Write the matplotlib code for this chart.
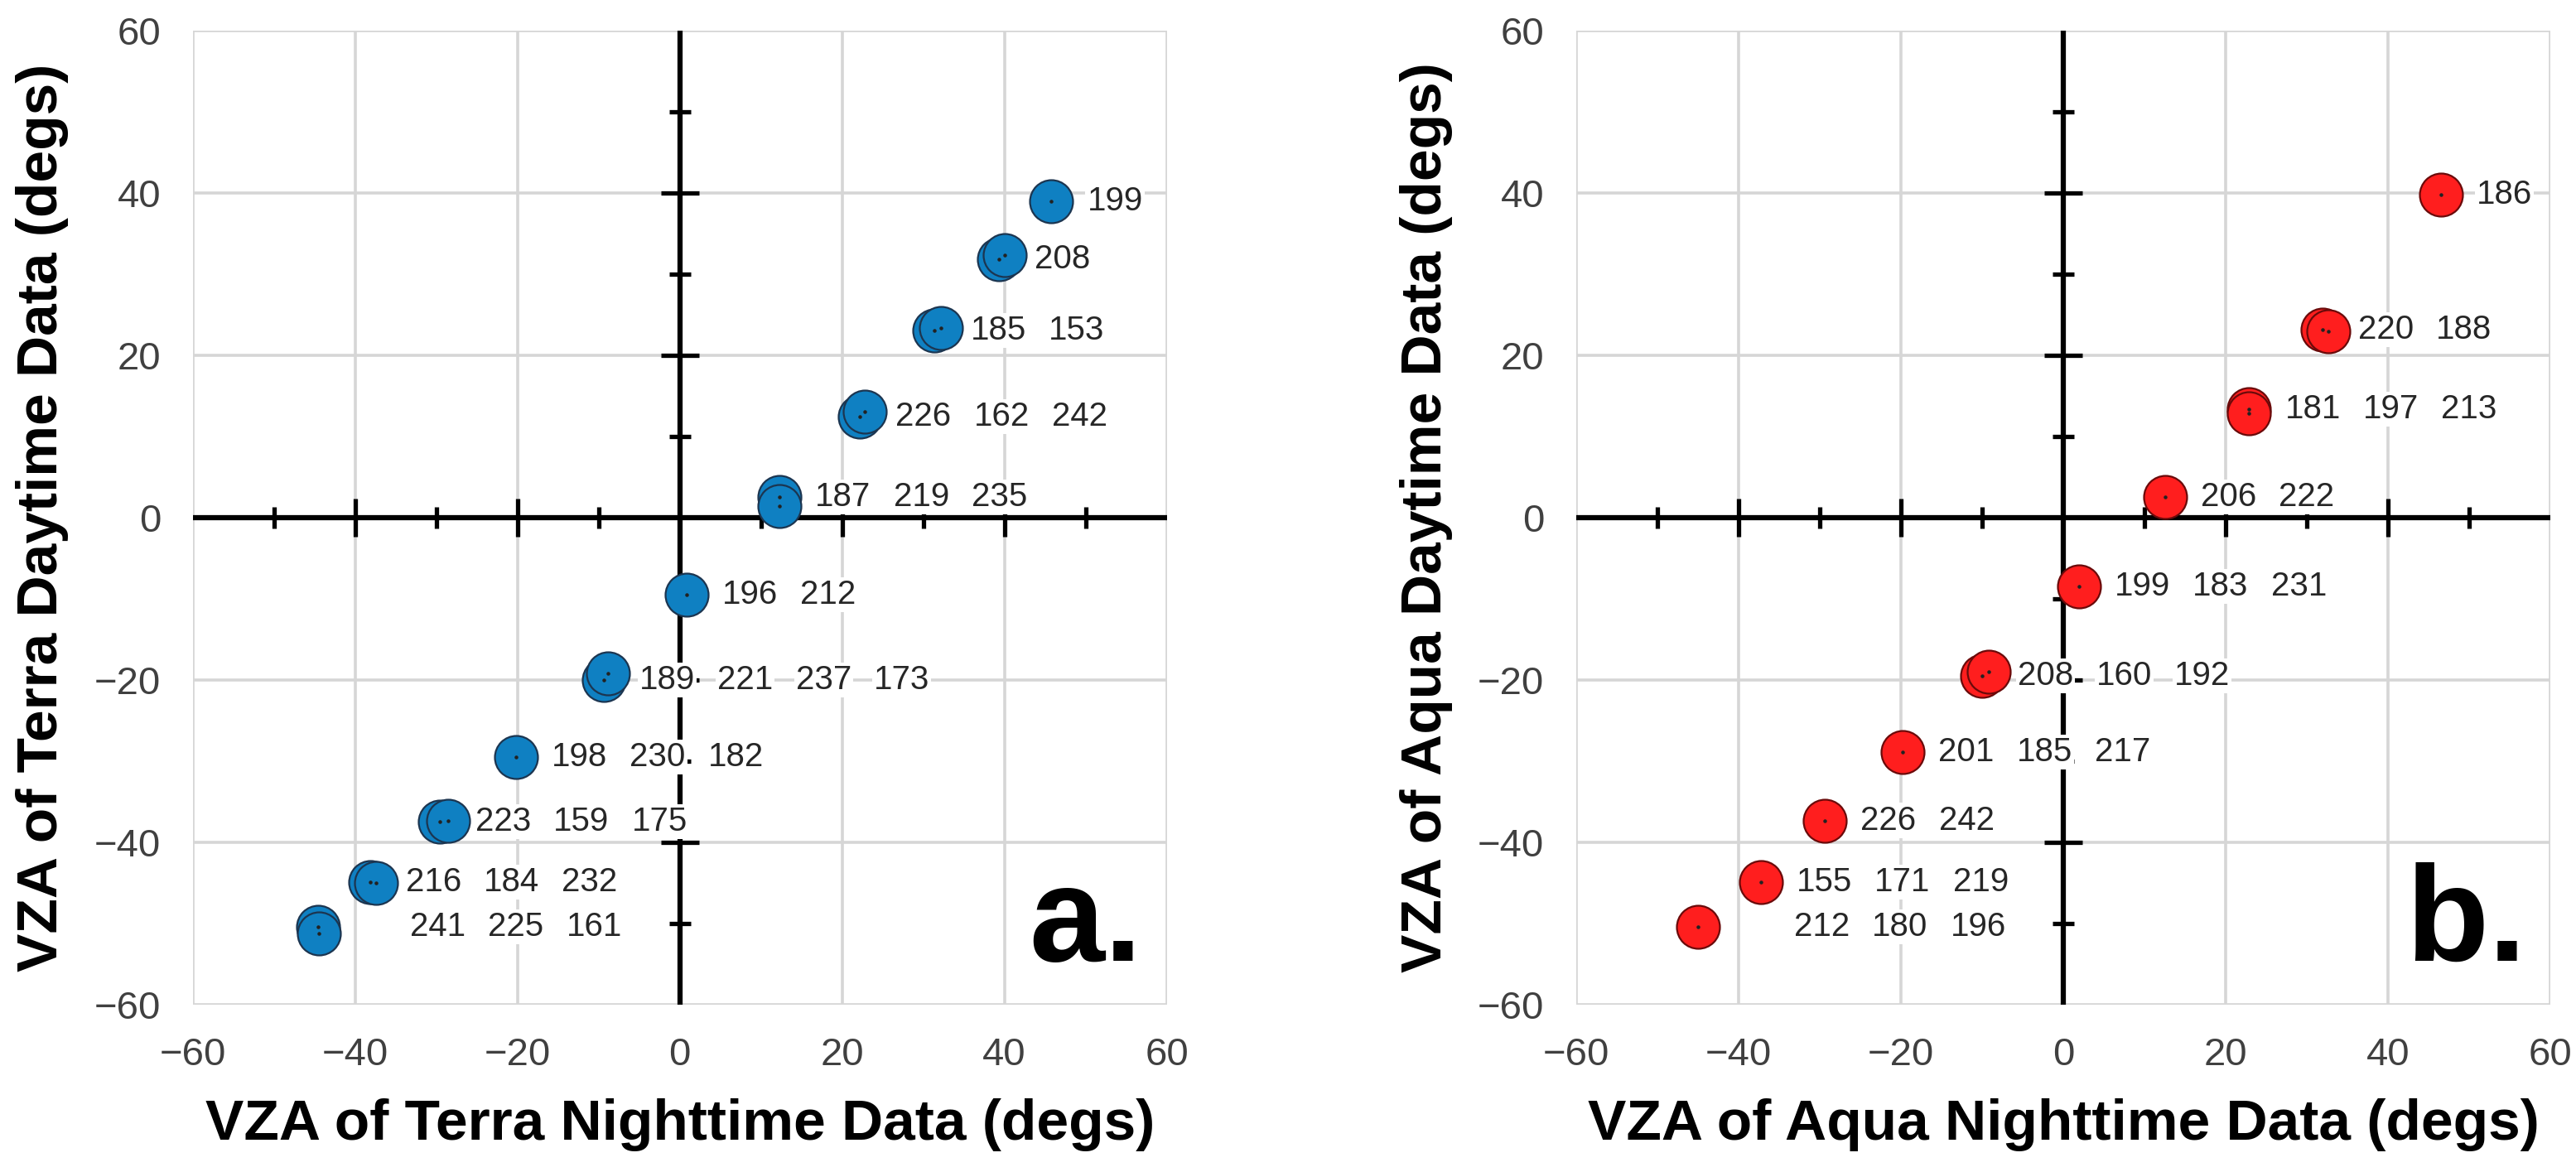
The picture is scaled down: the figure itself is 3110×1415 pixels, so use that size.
import numpy as np
import matplotlib.pyplot as plt

plt.rcParams['font.family'] = ['Liberation Sans', 'DejaVu Sans']

# Terra: nighttime VZA (x) vs daytime VZA (y), one entry per circle
terra_night = [45.8, 39.3, 40.0, 31.4, 32.2, 22.2, 22.8, 12.3, 12.3, 0.8,
               -9.4, -8.9, -20.2, -29.6, -28.6, -38.2, -37.4, -44.6, -44.5]
terra_day = [39.0, 31.8, 32.4, 23.1, 23.4, 12.5, 13.1, 2.6, 1.4, -9.5,
             -20.0, -19.2, -29.5, -37.5, -37.3, -44.9, -45.0, -50.4, -51.2]
# day-of-year labels and the circle each label row belongs to
terra_label_pt = [0, 1, 3, 5, 7, 9, 10, 12, 13, 15, 17]
terra_labels = [["199"], ["208"], ["185", "153"], ["226", "162", "242"],
                ["187", "219", "235"], ["196", "212"],
                ["189", "221", "237", "173"], ["198", "230", "182"],
                ["223", "159", "175"], ["216", "184", "232"],
                ["241", "225", "161"]]

# Aqua
aqua_night = [46.5, 31.9, 32.7, 22.9, 22.9, 12.5, 1.9, -10.0, -9.2, -19.8,
              -29.4, -37.3, -45.0]
aqua_day = [39.8, 23.2, 23.0, 13.4, 12.9, 2.6, -8.5, -19.5, -19.0, -28.9,
            -37.3, -44.9, -50.4]
aqua_label_pt = [0, 1, 3, 5, 6, 7, 9, 10, 11, 12]
aqua_labels = [["186"], ["220", "188"], ["181", "197", "213"], ["206", "222"],
               ["199", "183", "231"], ["208", "160", "192"],
               ["201", "185", "217"], ["226", "242"], ["155", "171", "219"],
               ["212", "180", "196"]]

ticks = np.arange(-60, 61, 20)
cross_major = [-40, -20, 20, 40]
cross_minor = [-50, -30, -10, 10, 30, 50]


def draw_panel(ax, xs, ys, label_pt, labels, face, edge, xlabel, ylabel, letter, far_dx):
    ax.set_xlim(-60, 60)
    ax.set_ylim(-60, 60)
    ax.set_xticks(ticks)
    ax.set_yticks(ticks)
    ax.grid(True, color='#d6d6d6', lw=2.6, zorder=0)
    ax.set_axisbelow(True)
    for s in ax.spines.values():
        s.set_visible(False)
    ax.tick_params(length=0, pad=28, labelsize=34, labelcolor='#404040')

    # cross-hair axes through the origin
    ax.axhline(0, color='black', lw=4.5, zorder=2)
    ax.axvline(0, color='black', lw=4.5, zorder=2)
    zeros_maj = np.zeros(len(cross_major))
    zeros_min = np.zeros(len(cross_minor))
    ax.plot(cross_major, zeros_maj, ls='none', marker='|', ms=33, mew=3.8, color='black', zorder=2)
    ax.plot(cross_minor, zeros_min, ls='none', marker='|', ms=19, mew=3.8, color='black', zorder=2)
    ax.plot(zeros_maj, cross_major, ls='none', marker='_', ms=33, mew=3.8, color='black', zorder=2)
    ax.plot(zeros_min, cross_minor, ls='none', marker='_', ms=19, mew=3.8, color='black', zorder=2)

    ax.scatter(xs, ys, s=1400, c=face, edgecolors=edge, linewidths=1.6, zorder=4)
    ax.scatter(xs, ys, s=5, c='#222222', zorder=5)

    for k, (idx, row) in enumerate(zip(label_pt, labels)):
        dx = far_dx if k == len(labels) - 1 else 31
        for i, txt in enumerate(row):
            ax.annotate(txt, xy=(xs[idx], ys[idx]), xytext=(dx + i * 68, 0),
                        textcoords='offset points', ha='left', va='center',
                        fontsize=29, color='#262626', zorder=3,
                        bbox=dict(boxstyle='square,pad=0.05', fc='white', ec='none'))

    ax.set_xlabel(xlabel, fontsize=50, fontweight='bold', labelpad=22)
    ax.set_ylabel(ylabel, fontsize=50, fontweight='bold', labelpad=22)
    ax.text(0.975, 0.045, letter, transform=ax.transAxes, ha='right', va='baseline',
            fontsize=118, fontweight='bold', color='black', zorder=6)


fig = plt.figure(figsize=(31.1, 14.15), dpi=100)
ax1 = fig.add_axes([0.0749, 0.1428, 0.378, 0.831])
ax2 = fig.add_axes([0.612, 0.1428, 0.378, 0.831])

draw_panel(ax1, terra_night, terra_day, terra_label_pt, terra_labels,
           '#0f80c2', '#1c3550', 'VZA of Terra Nighttime Data (degs)',
           'VZA of Terra Daytime Data (degs)', 'a.', 80)
draw_panel(ax2, aqua_night, aqua_day, aqua_label_pt, aqua_labels,
           '#ff1e1e', '#6a0a0a', 'VZA of Aqua Nighttime Data (degs)',
           'VZA of Aqua Daytime Data (degs)', 'b.', 83)

fig.savefig('out.png', dpi=100, facecolor='white')
